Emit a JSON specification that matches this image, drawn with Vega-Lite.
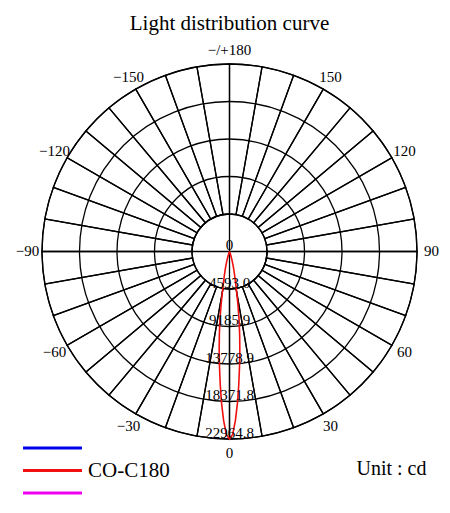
{
  "$schema": "https://vega.github.io/schema/vega-lite/v6.json",
  "width": 450,
  "height": 513,
  "padding": 0,
  "autosize": {"type": "none"},
  "background": "white",
  "config": {"view": {"stroke": null}, "font": "Liberation Serif"},
  "datasets": {
    "sectors": [
      {"a": -180, "a2": -170}, {"a": -170, "a2": -160}, {"a": -160, "a2": -150}, {"a": -150, "a2": -140},
      {"a": -140, "a2": -130}, {"a": -130, "a2": -120}, {"a": -120, "a2": -110}, {"a": -110, "a2": -100},
      {"a": -100, "a2": -90}, {"a": -90, "a2": -80}, {"a": -80, "a2": -70}, {"a": -70, "a2": -60},
      {"a": -60, "a2": -50}, {"a": -50, "a2": -40}, {"a": -40, "a2": -30}, {"a": -30, "a2": -20},
      {"a": -20, "a2": -10}, {"a": -10, "a2": 0}, {"a": 0, "a2": 10}, {"a": 10, "a2": 20},
      {"a": 20, "a2": 30}, {"a": 30, "a2": 40}, {"a": 40, "a2": 50}, {"a": 50, "a2": 60},
      {"a": 60, "a2": 70}, {"a": 70, "a2": 80}, {"a": 80, "a2": 90}, {"a": 90, "a2": 100},
      {"a": 100, "a2": 110}, {"a": 110, "a2": 120}, {"a": 120, "a2": 130}, {"a": 130, "a2": 140},
      {"a": 140, "a2": 150}, {"a": 150, "a2": 160}, {"a": 160, "a2": 170}, {"a": 170, "a2": 180}
    ],
    "cross": [{"a": 0, "a2": 90}, {"a": -180, "a2": -90}],
    "rings": [{"v": 4593.0}, {"v": 9185.9}, {"v": 13778.9}, {"v": 18371.8}, {"v": 22964.8}],
    "ringlabels": [
      {"v": 0, "label": "0"},
      {"v": 4593.0, "label": "4593.0"},
      {"v": 9185.9, "label": "9185.9"},
      {"v": 13778.9, "label": "13778.9"},
      {"v": 18371.8, "label": "18371.8"},
      {"v": 22964.8, "label": "22964.8"}
    ],
    "angles": [
      {"a": 180, "label": "−/+180"}, {"a": 150, "label": "150"}, {"a": -150, "label": "−150"},
      {"a": 120, "label": "120"}, {"a": -120, "label": "−120"}, {"a": 90, "label": "90"},
      {"a": -90, "label": "−90"}, {"a": 60, "label": "60"}, {"a": -60, "label": "−60"},
      {"a": 30, "label": "30"}, {"a": -30, "label": "−30"}, {"a": 0, "label": "0"}
    ],
    "curve": [
      {"s": "CO-C180", "a": -30, "I": 0}, {"s": "CO-C180", "a": -25, "I": 20}, {"s": "CO-C180", "a": -22, "I": 80},
      {"s": "CO-C180", "a": -20, "I": 200}, {"s": "CO-C180", "a": -19, "I": 350}, {"s": "CO-C180", "a": -18, "I": 550},
      {"s": "CO-C180", "a": -17, "I": 800}, {"s": "CO-C180", "a": -16, "I": 1100}, {"s": "CO-C180", "a": -15, "I": 1500},
      {"s": "CO-C180", "a": -14, "I": 1950}, {"s": "CO-C180", "a": -13, "I": 2450}, {"s": "CO-C180", "a": -12, "I": 3100},
      {"s": "CO-C180", "a": -11, "I": 3900}, {"s": "CO-C180", "a": -10, "I": 5000}, {"s": "CO-C180", "a": -9, "I": 6600},
      {"s": "CO-C180", "a": -8, "I": 8400}, {"s": "CO-C180", "a": -7, "I": 10200}, {"s": "CO-C180", "a": -6, "I": 12100},
      {"s": "CO-C180", "a": -5, "I": 14100}, {"s": "CO-C180", "a": -4, "I": 16300}, {"s": "CO-C180", "a": -3, "I": 18600},
      {"s": "CO-C180", "a": -2, "I": 20700}, {"s": "CO-C180", "a": -1, "I": 22400}, {"s": "CO-C180", "a": 0, "I": 22964.8},
      {"s": "CO-C180", "a": 1, "I": 22400}, {"s": "CO-C180", "a": 2, "I": 20700}, {"s": "CO-C180", "a": 3, "I": 18600},
      {"s": "CO-C180", "a": 4, "I": 16300}, {"s": "CO-C180", "a": 5, "I": 14100}, {"s": "CO-C180", "a": 6, "I": 12100},
      {"s": "CO-C180", "a": 7, "I": 10200}, {"s": "CO-C180", "a": 8, "I": 8400}, {"s": "CO-C180", "a": 9, "I": 6600},
      {"s": "CO-C180", "a": 10, "I": 5000}, {"s": "CO-C180", "a": 11, "I": 3900}, {"s": "CO-C180", "a": 12, "I": 3100},
      {"s": "CO-C180", "a": 13, "I": 2450}, {"s": "CO-C180", "a": 14, "I": 1950}, {"s": "CO-C180", "a": 15, "I": 1500},
      {"s": "CO-C180", "a": 16, "I": 1100}, {"s": "CO-C180", "a": 17, "I": 800}, {"s": "CO-C180", "a": 18, "I": 550},
      {"s": "CO-C180", "a": 19, "I": 350}, {"s": "CO-C180", "a": 20, "I": 200}, {"s": "CO-C180", "a": 22, "I": 80},
      {"s": "CO-C180", "a": 25, "I": 20}, {"s": "CO-C180", "a": 30, "I": 0}
    ]
  },
  "layer": [
    {
      "data": {"name": "sectors"},
      "mark": {"type": "arc", "filled": false, "color": "#000000", "stroke": "#000000", "strokeWidth": 1.3},
      "encoding": {
        "x": {"datum": 0, "type": "quantitative", "scale": {"domain": [-28109.9, 27006.6], "nice": false, "zero": false}, "axis": null},
        "y": {"datum": 0, "type": "quantitative", "scale": {"domain": [-32028.2, 30803.4], "nice": false, "zero": false}, "axis": null},
        "theta": {"field": "a", "type": "quantitative", "stack": null, "scale": {"domain": [180, -180], "range": [0, 6.283185307179586]}},
        "theta2": {"field": "a2"},
        "radius": {"datum": 22964.8, "type": "quantitative", "stack": null, "scale": {"type": "linear", "domain": [0, 22964.8], "range": [0, 187.5], "zero": true}},
        "radius2": {"datum": 4593.0}
      }
    },
    {
      "data": {"name": "cross"},
      "mark": {"type": "arc", "filled": false, "color": "#000000", "stroke": "#000000", "strokeWidth": 1.3},
      "encoding": {
        "x": {"datum": 0, "type": "quantitative", "scale": {"domain": [-28109.9, 27006.6], "nice": false, "zero": false}, "axis": null},
        "y": {"datum": 0, "type": "quantitative", "scale": {"domain": [-32028.2, 30803.4], "nice": false, "zero": false}, "axis": null},
        "theta": {"field": "a", "type": "quantitative", "stack": null},
        "theta2": {"field": "a2"},
        "radius": {"datum": 4593.0, "type": "quantitative", "stack": null}
      }
    },
    {
      "data": {"name": "rings"},
      "mark": {"type": "arc", "filled": false, "color": "#000000", "stroke": "#000000", "strokeWidth": 1.3},
      "encoding": {
        "x": {"datum": 0, "type": "quantitative", "scale": {"domain": [-28109.9, 27006.6], "nice": false, "zero": false}, "axis": null},
        "y": {"datum": 0, "type": "quantitative", "scale": {"domain": [-32028.2, 30803.4], "nice": false, "zero": false}, "axis": null},
        "theta": {"datum": -180, "type": "quantitative", "stack": null},
        "theta2": {"datum": 180},
        "radius": {"field": "v", "type": "quantitative", "stack": null}
      }
    },
    {
      "data": {"name": "curve"},
      "transform": [
        {"calculate": "datum.I * sin(datum.a * PI / 180)", "as": "px"},
        {"calculate": "-datum.I * cos(datum.a * PI / 180)", "as": "py"}
      ],
      "mark": {"type": "line", "strokeWidth": 1.6},
      "encoding": {
        "x": {"field": "px", "type": "quantitative", "scale": {"domain": [-28109.9, 27006.6], "nice": false, "zero": false}, "axis": null},
        "y": {"field": "py", "type": "quantitative", "scale": {"domain": [-32028.2, 30803.4], "nice": false, "zero": false}, "axis": null},
        "order": {"field": "a", "type": "quantitative"},
        "color": {
          "field": "s", "type": "nominal",
          "scale": {"domain": ["C90-C270", "CO-C180", "C45-C225"], "range": ["#0000ee", "#f01010", "#ee00ee"]},
          "legend": {
            "title": null, "orient": "none", "legendX": 15, "legendY": 437.5, "padding": 0,
            "symbolType": "M-5,0H5", "symbolSize": 139, "symbolStrokeWidth": 3,
            "symbolOffset": 27, "labelOffset": 25, "labelFont": "Liberation Serif", "labelFontSize": 21,
            "labelColor": "black", "rowPadding": 0.5,
            "labelExpr": "datum.label == 'CO-C180' ? datum.label : ''"
          }
        }
      }
    },
    {
      "data": {"name": "angles"},
      "mark": {"type": "text", "fontSize": 15, "align": "center", "baseline": "middle", "color": "#000000"},
      "encoding": {
        "x": {"datum": 0, "type": "quantitative", "scale": {"domain": [-28109.9, 27006.6], "nice": false, "zero": false}, "axis": null},
        "y": {"datum": 0, "type": "quantitative", "scale": {"domain": [-32028.2, 30803.4], "nice": false, "zero": false}, "axis": null},
        "theta": {"field": "a", "type": "quantitative", "stack": null},
        "radius": {"datum": 24740, "type": "quantitative", "stack": null},
        "text": {"field": "label"}
      }
    },
    {
      "data": {"name": "ringlabels"},
      "mark": {"type": "text", "fontSize": 15, "align": "center", "baseline": "alphabetic", "dy": -1, "color": "#000000"},
      "encoding": {
        "x": {"datum": 0, "type": "quantitative", "scale": {"domain": [-28109.9, 27006.6], "nice": false, "zero": false}, "axis": null},
        "y": {"datum": 0, "type": "quantitative", "scale": {"domain": [-32028.2, 30803.4], "nice": false, "zero": false}, "axis": null},
        "theta": {"datum": 0, "type": "quantitative", "stack": null},
        "radius": {"field": "v", "type": "quantitative", "stack": null},
        "text": {"field": "label"}
      }
    },
    {
      "data": {"values": [{"t": "Light distribution curve"}]},
      "mark": {"type": "text", "fontSize": 21, "align": "center", "baseline": "alphabetic", "color": "#000000"},
      "encoding": {
        "x": {"datum": 0, "type": "quantitative", "scale": {"domain": [-28109.9, 27006.6], "nice": false, "zero": false}, "axis": null},
        "y": {"datum": 27190, "type": "quantitative", "scale": {"domain": [-32028.2, 30803.4], "nice": false, "zero": false}, "axis": null},
        "text": {"field": "t"}
      }
    },
    {
      "data": {"values": [{"t": "Unit : cd"}]},
      "mark": {"type": "text", "fontSize": 20, "align": "center", "baseline": "alphabetic", "color": "#000000"},
      "encoding": {
        "x": {"datum": 19842, "type": "quantitative", "scale": {"domain": [-28109.9, 27006.6], "nice": false, "zero": false}, "axis": null},
        "y": {"datum": -27374, "type": "quantitative", "scale": {"domain": [-32028.2, 30803.4], "nice": false, "zero": false}, "axis": null},
        "text": {"field": "t"}
      }
    }
  ]
}
